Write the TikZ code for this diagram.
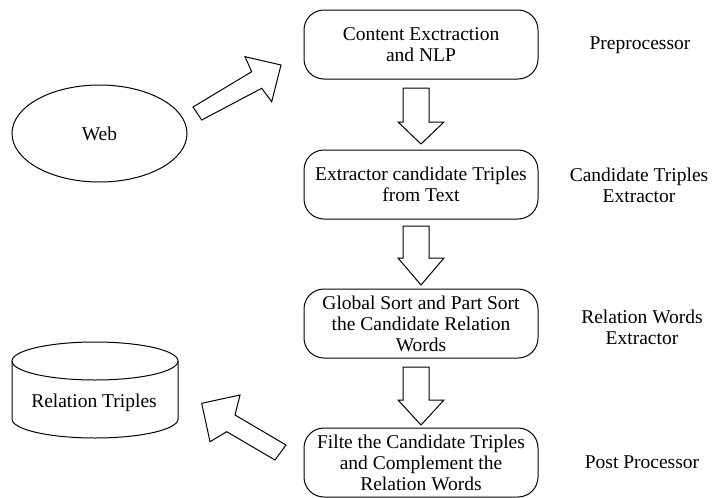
\documentclass[tikz,border=0pt]{standalone}
\usepackage{fontspec}
\setmainfont{Liberation Serif}
\newfontfamily\tmsfont{Liberation Serif}
\begin{document}
\begin{tikzpicture}[x=1pt,y=-1pt,line width=1pt,
  font=\tmsfont\fontsize{19.5}{21}\selectfont,
  stepbox/.style={draw,rounded corners=20pt,minimum width=234pt,minimum height=69pt,align=center,inner sep=0pt},
  lbl/.style={align=center},
  blockarrow/.style={draw,line join=miter}]
\useasboundingbox (0,0) rectangle (715,498);
% process boxes
\node[stepbox] (b1) at (421,44.5) {Content Exctraction\\and NLP};
\node[stepbox] (b2) at (421,184.5) {Extractor candidate Triples\\from Text};
\node[stepbox] (b3) at (421,323.5) {Global Sort and Part Sort\\the Candidate Relation\\Words};
\node[stepbox] (b4) at (421,462.5) {Filte the Candidate Triples\\and Complement the\\Relation Words};
% right labels
\node[lbl] (l1) at (640,45) {Preprocessor};
\node[lbl] (l2) at (639,185) {Candidate Triples\\Extractor};
\node[lbl] (l3) at (642,327) {Relation Words\\Extractor};
\node[lbl] (l4) at (642,462) {Post Processor};
% web ellipse
\draw (99.5,133.5) ellipse [x radius=87.5, y radius=48.5];
\node (web) at (99.5,133.5) {Web};
% cylinder
\draw (12,361) -- (12,419) arc[start angle=180,end angle=0,x radius=83,y radius=19] -- (178,361);
\draw (95,361) ellipse [x radius=83, y radius=19];
\node (rt) at (94,403) {Relation Triples};
% vertical block arrows
\foreach \t/\h/\p in {88/122/144, 226/258/285, 367/400/425}{
  \draw[blockarrow] (403,\t) -- (429,\t) -- (429,\h) -- (444,\h) -- (421,\p) -- (398,\h) -- (403,\h) -- cycle;
}
% diagonal block arrows
\draw[blockarrow] (193,107) -- (251.7,71.7) -- (245,56.7) -- (281,65) -- (271.7,101.7) -- (261.7,88.3) -- (201.7,120) -- cycle;
\draw[blockarrow] (286,445) -- (235,415) -- (240,395) -- (201.7,403.3) -- (210,441.7) -- (226.7,431.7) -- (275,460) -- cycle;
\end{tikzpicture}
\end{document}
